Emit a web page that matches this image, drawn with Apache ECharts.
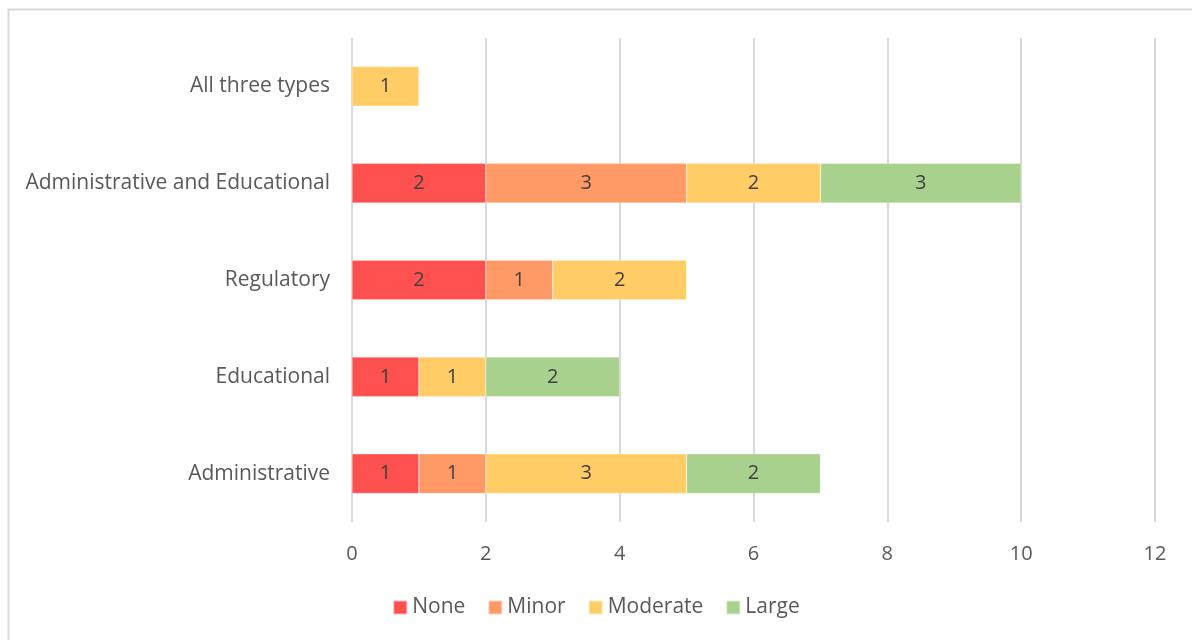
<!DOCTYPE html>
<html>
<head>
<meta charset="utf-8">
<script src="https://cdn.jsdelivr.net/npm/echarts@6/dist/echarts.min.js"></script>
<style>
  html, body { margin: 0; padding: 0; background: #fff; }
  #chart { width: 1192px; height: 640px; }
</style>
</head>
<body>
<div id="chart"></div>
<script>
// Intervention types (bottom to top) and counts per level of effect
const categories = ['Administrative', 'Educational', 'Regulatory', 'Administrative and Educational', 'All three types'];
const noneVals = [1, 1, 2, 2, null];
const minorVals = [1, null, 1, 3, null];
const moderateVals = [3, 1, 2, 2, 1];
const largeVals = [2, 2, null, 3, null];
const seriesNames = ['None', 'Minor', 'Moderate', 'Large'];
const seriesColors = ['#FF5050', '#FF9966', '#FFCC66', '#A9D18E'];

const font = '"Open Sans", "Noto Sans", sans-serif';
const textColor = '#595959';

const chart = echarts.init(document.getElementById('chart'), null, { renderer: 'canvas' });

const makeSeries = (name, data, color) => ({
  name,
  type: 'bar',
  stack: 'total',
  barCategoryGap: '59%',
  data,
  itemStyle: { color, borderColor: 'rgba(255,255,255,0.6)', borderWidth: 0.5 },
  label: {
    show: true,
    position: 'inside',
    color: '#404040',
    fontFamily: font,
    fontSize: 20,
    padding: [3, 0, 0, 0],
    formatter: p => (p.value == null ? '' : p.value)
  },
  emphasis: { disabled: true }
});

chart.setOption({
  animation: false,
  backgroundColor: '#fff',
  graphic: [{
    type: 'rect',
    shape: { x: 8.5, y: 9.5, width: 1300, height: 800 },
    style: { fill: 'none', stroke: '#d9d9d9', lineWidth: 2 },
    silent: true,
    z: -1
  }],
  grid: { left: 352, right: 37, top: 38, bottom: 118, containLabel: false },
  legend: {
    bottom: 17,
    left: 'center',
    itemWidth: 14,
    itemHeight: 14,
    itemGap: 22,
    icon: 'rect',
    textStyle: { color: textColor, fontFamily: font, fontSize: 21 },
    data: seriesNames
  },
  xAxis: {
    type: 'value',
    min: 0,
    max: 12,
    interval: 2,
    axisLine: { show: false },
    axisTick: { show: false },
    splitLine: { show: true, lineStyle: { color: '#d9d9d9', width: 2 } },
    axisLabel: { color: textColor, fontFamily: font, fontSize: 20, margin: 22 }
  },
  yAxis: {
    type: 'category',
    data: categories,
    axisLine: { show: false },
    axisTick: { show: false },
    axisLabel: { color: textColor, fontFamily: font, fontSize: 21, margin: 22, padding: [4, 0, 0, 0] }
  },
  series: [
    makeSeries(seriesNames[0], noneVals, seriesColors[0]),
    makeSeries(seriesNames[1], minorVals, seriesColors[1]),
    makeSeries(seriesNames[2], moderateVals, seriesColors[2]),
    makeSeries(seriesNames[3], largeVals, seriesColors[3])
  ]
});
</script>
</body>
</html>
